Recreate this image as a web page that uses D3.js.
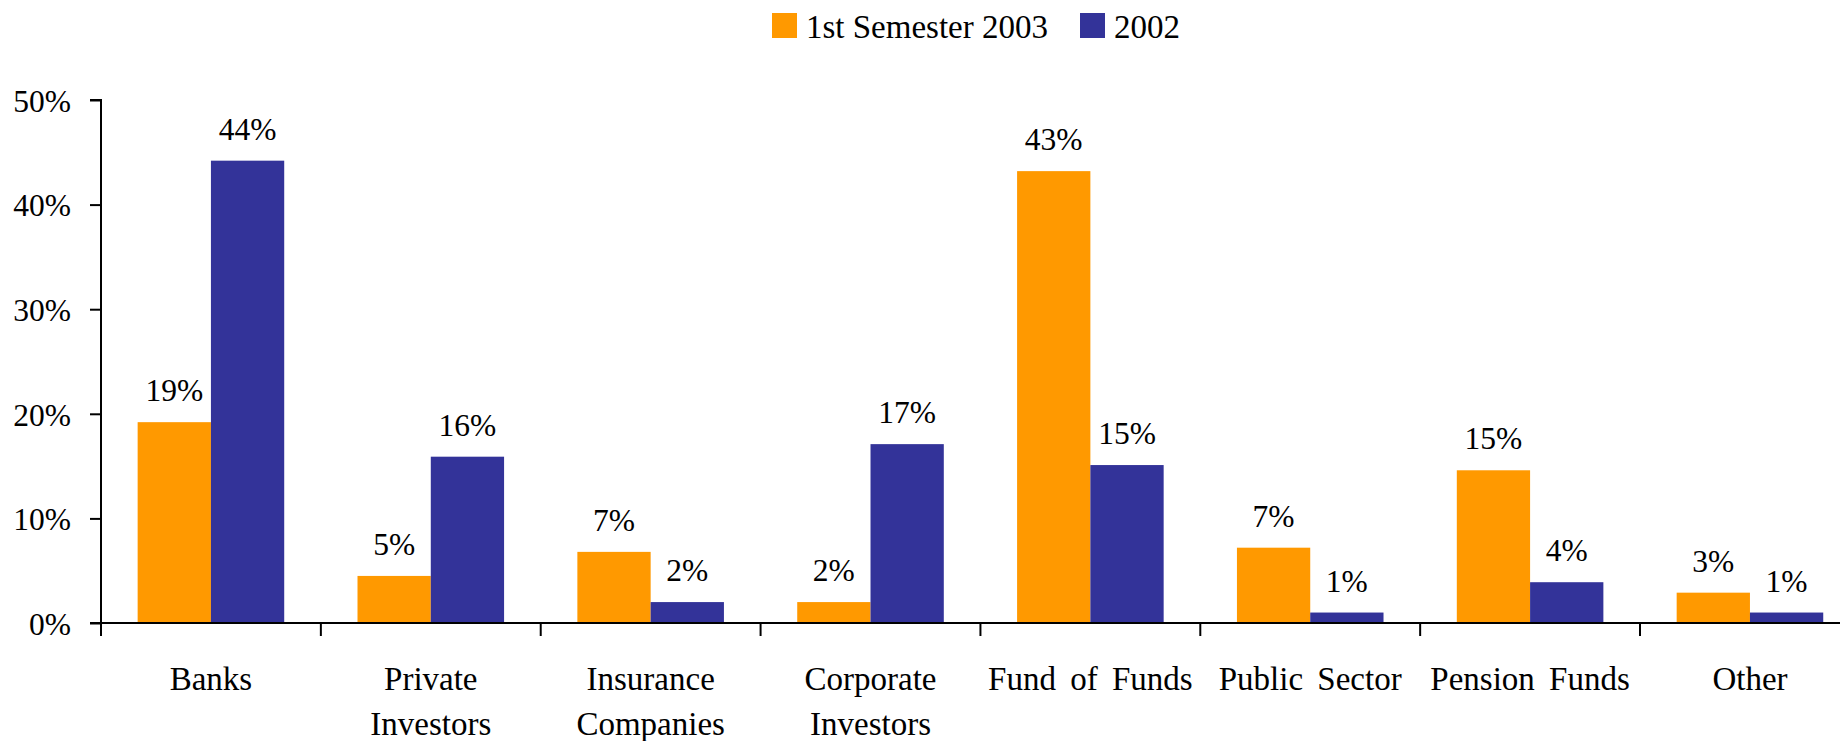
<!DOCTYPE html>
<html>
<head>
<meta charset="utf-8">
<script src="https://cdn.jsdelivr.net/npm/d3@7"></script>
<style>
  html, body { margin: 0; padding: 0; background: #fff; overflow: hidden; }
  text { font-family: "Liberation Serif", "Times New Roman", serif; fill: #000; }
</style>
</head>
<body>
<div id="chart"></div>
<script>
// data (percent)
const categories = ["Banks", "Private\nInvestors", "Insurance\nCompanies", "Corporate\nInvestors",
    "Fund of Funds", "Public Sector", "Pension Funds", "Other"];
const seriesNames = ["1st Semester 2003", "2002"];
const sem2003 = [19.2, 4.5, 6.8, 2.0, 43.2, 7.2, 14.6, 2.9];
const year2002 = [44.2, 15.9, 2.0, 17.1, 15.1, 1.0, 3.9, 1.0];
const yTicks = [0, 10, 20, 30, 40, 50];
const colors = ["#ff9900", "#333399"];

(function() {

    const width = 1840;
    const height = 741;
    const left = 101, top = 100, bottom = 623;
    const step = 219.86;
    const fs = 31.5;

    const svg = d3.select("#chart").append("svg")
        .attr("width", width)
        .attr("height", height)
        .attr("font-family", "Liberation Serif");

    const x = d3.scaleBand()
        .domain(categories)
        .range([left, left + step * categories.length])
        .padding(0);

    const x1 = d3.scaleBand()
        .domain(seriesNames)
        .range([0, x.bandwidth()])
        .paddingInner(0)
        .paddingOuter(0.5);

    const y = d3.scaleLinear().domain([0, 50]).range([bottom, top]);
    const color = d3.scaleOrdinal(seriesNames, colors);

    const rows = categories.map((c, i) => ({cat: c, vals: [sem2003[i], year2002[i]]}));

    // bars
    const groups = svg.append("g")
        .selectAll("g")
        .data(rows)
        .join("g")
        .attr("transform", d => `translate(${x(d.cat)},0)`);

    groups.selectAll("rect")
        .data(d => d.vals.map((v, k) => ({name: seriesNames[k], v})))
        .join("rect")
        .attr("x", d => x1(d.name))
        .attr("width", x1.bandwidth())
        .attr("y", d => y(d.v))
        .attr("height", d => y(0) - y(d.v))
        .attr("fill", d => color(d.name));

    groups.selectAll("text")
        .data(d => d.vals.map((v, k) => ({name: seriesNames[k], v})))
        .join("text")
        .attr("x", d => x1(d.name) + x1.bandwidth() / 2)
        .attr("y", d => y(d.v) - 21)
        .attr("text-anchor", "middle")
        .style("font-size", fs + "px")
        .text(d => Math.round(d.v) + "%");

    // y axis
    const yAxis = svg.append("g")
        .attr("transform", `translate(${left},0)`)
        .call(d3.axisLeft(y).tickValues(yTicks).tickSize(11).tickPadding(19).tickFormat(d => d + "%"));
    yAxis.select(".domain").attr("stroke-width", 2).attr("d", `M-11,${top}H0V${bottom}H-11`);
    yAxis.selectAll(".tick line").attr("stroke-width", 2);
    yAxis.selectAll("text")
        .style("font-size", fs + "px")
        .attr("dy", "0.36em");

    // x axis: line, boundary ticks, wrapped labels
    const xAxis = svg.append("g").attr("transform", `translate(0,${bottom})`);
    xAxis.append("line")
        .attr("x1", left).attr("x2", width)
        .attr("stroke", "#000").attr("stroke-width", 2);

    xAxis.selectAll("line.bt")
        .data(categories.concat([null]))
        .join("line")
        .attr("class", "bt")
        .attr("x1", (d, i) => x.range()[0] + i * x.step())
        .attr("x2", (d, i) => x.range()[0] + i * x.step())
        .attr("y1", 0).attr("y2", 13)
        .attr("stroke", "#000").attr("stroke-width", 2);

    const lbl = xAxis.selectAll("text")
        .data(categories)
        .join("text")
        .attr("x", d => x(d) + x.bandwidth() / 2)
        .attr("y", 67)
        .attr("text-anchor", "middle")
        .style("font-size", "33px")
        .style("word-spacing", "6px");
    lbl.selectAll("tspan")
        .data(d => d.split("\n"))
        .join("tspan")
        .attr("x", function() { return this.parentNode.getAttribute("x"); })
        .attr("dy", (d, i) => i ? 45 : 0)
        .text(d => d);

    // legend
    const legend = svg.append("g");
    const legX = [772, 1080];
    seriesNames.forEach((s, i) => {
        legend.append("rect")
            .attr("x", legX[i]).attr("y", 13)
            .attr("width", 25).attr("height", 25)
            .attr("fill", color(s));
        legend.append("text")
            .attr("x", legX[i] + 34).attr("y", 37.5)
            .style("font-size", "33px")
            .text(s);
    });

}());
</script>
</body>
</html>
